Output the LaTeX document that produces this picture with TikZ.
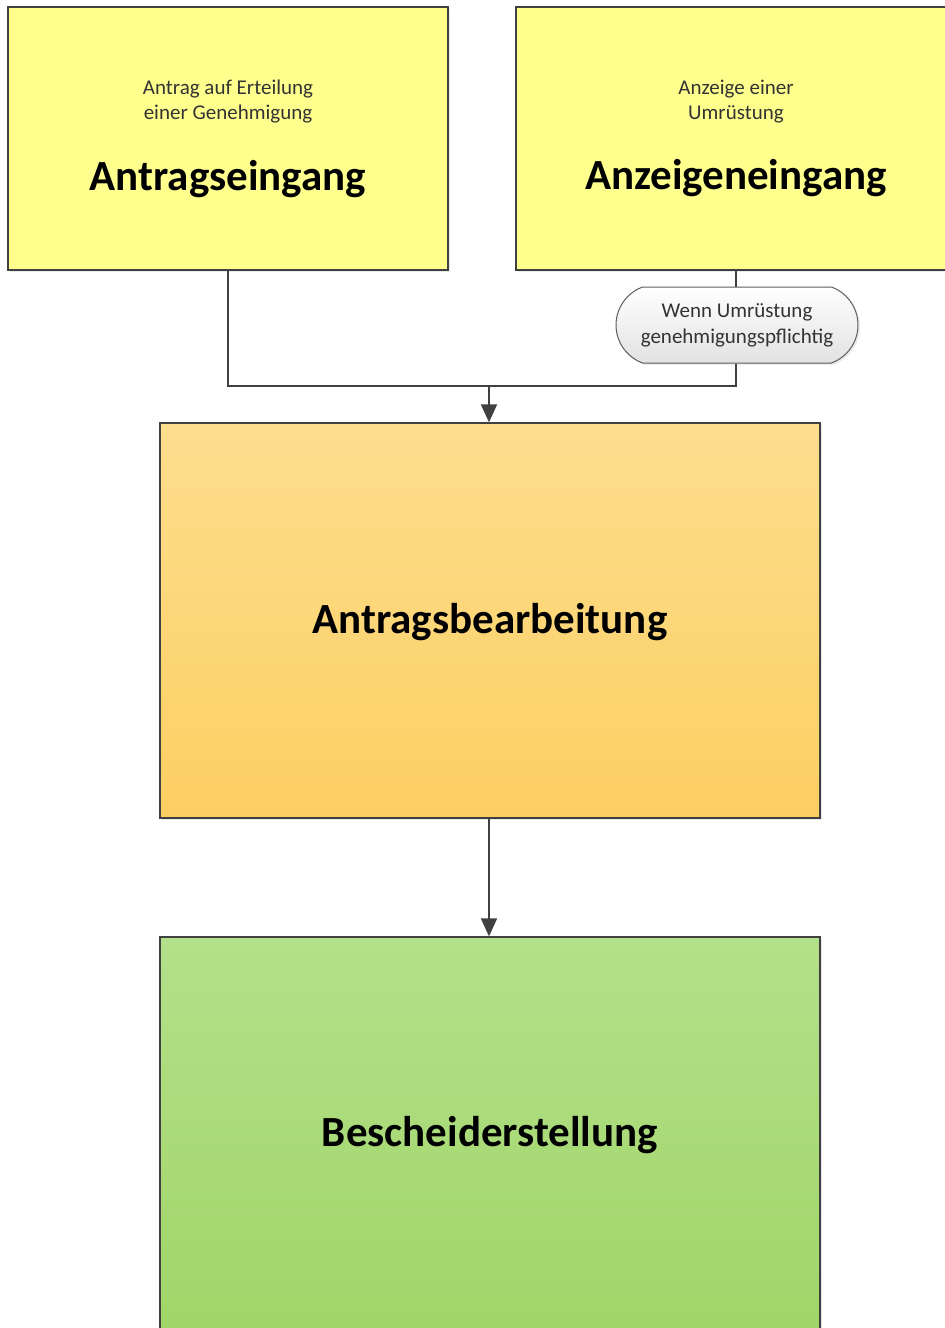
\documentclass[tikz,border=0pt]{standalone}
\usepackage{fontspec}
\setmainfont{Carlito}
\usetikzlibrary{arrows.meta,shapes.misc,shadows}
\definecolor{edge}{HTML}{404040}
\definecolor{yelfill}{HTML}{FFFF8E}
\definecolor{orgtop}{HTML}{FDDE8E}
\definecolor{orgbot}{HTML}{FCCF62}
\definecolor{grntop}{HTML}{B3E08A}
\definecolor{grnbot}{HTML}{A1D568}
\definecolor{pilltop}{HTML}{FFFFFF}
\definecolor{pillbot}{HTML}{E2E2E2}
\definecolor{subtext}{HTML}{333333}
\tikzset{
  box/.style={draw=edge, line width=1.3pt, rectangle, inner sep=0pt,
    align=center, font=\fontsize{43}{50}\selectfont\bfseries,
    drop shadow={opacity=0.18, shadow xshift=2pt, shadow yshift=-2pt}},
  inbox/.style={box, fill=yelfill, minimum width=440pt, minimum height=263pt,
    font=\fontsize{21}{25}\selectfont, text=subtext},
  pill/.style={draw=edge!85, line width=1pt, rounded rectangle,
    rounded rectangle arc length=140, inner sep=0pt,
    minimum width=242pt, minimum height=76pt, align=center,
    top color=pilltop, bottom color=pillbot,
    font=\fontsize{21}{26}\selectfont, text=subtext,
    drop shadow={opacity=0.15, shadow xshift=2pt, shadow yshift=-2pt}},
  link/.style={draw=edge, line width=1.8pt},
  flow/.style={link, -{Triangle[width=16pt,length=18pt]}},
}
\newcommand{\boxtitle}[1]{{\fontsize{43}{50}\selectfont\bfseries\color{black}#1}}
\begin{document}
\begin{tikzpicture}[x=1pt,y=-1pt]
  \useasboundingbox (0,0) rectangle (945,1328);
  % input boxes
  \node[inbox] (antrag) at (228,138.5)
    {Antrag auf Erteilung\\einer Genehmigung\\[36pt]\boxtitle{Antragseingang}};
  \node[inbox] (anzeige) at (736,138.5)
    {Anzeige einer\\Umrüstung\\[36pt]\boxtitle{Anzeigeneingang}};
  % processing and result
  \node[box, top color=orgtop, bottom color=orgbot, minimum width=660pt, minimum height=395pt]
    (bearb) at (490,620.5) {};
  \node[font=\fontsize{43}{50}\selectfont\bfseries] (bearbtxt) at (490,622.5) {Antragsbearbeitung};
  \node[box, top color=grntop, bottom color=grnbot, minimum width=660pt, minimum height=395pt]
    (bescheid) at (490,1134.5) {};
  \node[font=\fontsize{43}{50}\selectfont\bfseries] (beschtxt) at (490,1135.5) {Bescheiderstellung};
  % condition
  \node[pill] (cond) at (737,325) {Wenn Umrüstung\\genehmigungspflichtig};
  % connectors
  \coordinate (join) at (489,386);
  \draw[link] (antrag.south) |- (join);
  \draw[link] (anzeige.south) -- (anzeige.south |- cond.north);
  \draw[link] (anzeige.south |- cond.south) |- (join);
  \draw[flow] (join) -- (join |- bearb.north);
  \draw[flow] (bearb.south -| join) -- (join |- bescheid.north);
\end{tikzpicture}
\end{document}
